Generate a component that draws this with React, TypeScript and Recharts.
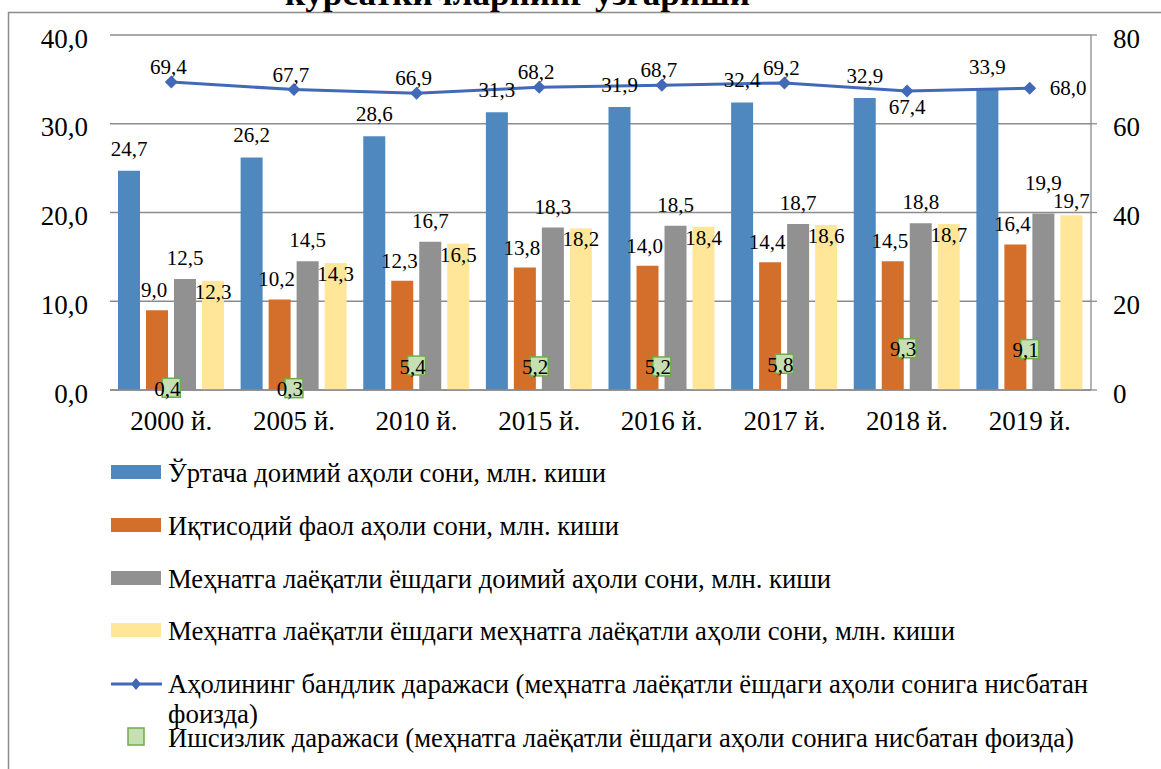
import { ComposedChart, Bar, Line, XAxis, YAxis, CartesianGrid, LabelList } from 'recharts';

const years = ['2000 й.', '2005 й.', '2010 й.', '2015 й.', '2016 й.', '2017 й.', '2018 й.', '2019 й.'];
const avgPopulation = [24.7, 26.2, 28.6, 31.3, 31.9, 32.4, 32.9, 33.9];
const activePopulation = [9.0, 10.2, 12.3, 13.8, 14.0, 14.4, 14.5, 16.4];
const workingAgePopulation = [12.5, 14.5, 16.7, 18.3, 18.5, 18.7, 18.8, 19.9];
const ableBodiedPopulation = [12.3, 14.3, 16.5, 18.2, 18.4, 18.6, 18.7, 19.7];
const employmentRate = [69.4, 67.7, 66.9, 68.2, 68.7, 69.2, 67.4, 68.0];
const unemploymentRate = [0.4, 0.3, 5.4, 5.2, 5.2, 5.8, 9.3, 9.1];

const leftTicks = [0, 10, 20, 30, 40];
const rightTicks = [0, 20, 40, 60, 80];

const seriesNames = [
  'Ўртача доимий аҳоли сони, млн. киши',
  'Иқтисодий фаол аҳоли сони, млн. киши',
  'Меҳнатга лаёқатли ёшдаги доимий аҳоли сони, млн. киши',
  'Меҳнатга лаёқатли ёшдаги меҳнатга лаёқатли аҳоли сони, млн. киши',
  'Аҳолининг бандлик даражаси (меҳнатга лаёқатли ёшдаги аҳоли сонига нисбатан',
  'фоизда)',
  'Ишсизлик даражаси (меҳнатга лаёқатли ёшдаги аҳоли сонига нисбатан фоизда)',
];
const title = 'кўрсаткичларнинг ўзгариши';

const data = years.map((year, i) => ({
  year,
  avg: avgPopulation[i],
  active: activePopulation[i],
  working: workingAgePopulation[i],
  able: ableBodiedPopulation[i],
  employment: employmentRate[i],
  unemployment: unemploymentRate[i],
}));

const FONT = "'Liberation Serif', 'DejaVu Serif', serif";
const BLUE = '#4F88BE';
const ORANGE = '#D36E2B';
const GRAY = '#919191';
const YELLOW = '#FFE699';
const LINE = '#4169B8';
const SQ_FILL = '#C6E0B4';
const SQ_STROKE = '#70AD47';
const AXIS = '#8C8C8C';

const fmt = (v: number) => v.toFixed(1).replace('.', ',');

const lastIdx = years.length - 1;

function barLabel(kind: string) {
  return (p: any) => {
    const { x, y, width, value, index } = p;
    const cx = x + width / 2;
    let by = y - 14;
    let dx = 0;
    if (kind === 'blue') by = y - 15;
    if (kind === 'orange') { by = y - 13; dx = -3; }
    if (kind === 'gray') by = index === lastIdx ? y - 23 : y - 14;
    if (kind === 'yellow') by = index === lastIdx ? y - 7 : y + 18;
    return (
      <text key={`${kind}-${index}`} x={cx + dx} y={by} textAnchor="middle" fontSize={21} fontFamily={FONT} fill="#000">
        {fmt(Number(value))}
      </text>
    );
  };
}

const lineLabel = (p: any) => {
  const { x, y, value, index } = p;
  if (index === lastIdx) {
    return <text key={`ll-${index}`} x={x + 20} y={y + 7} textAnchor="start" fontSize={21} fontFamily={FONT}>{fmt(Number(value))}</text>;
  }
  if (index === 6) {
    return <text key={`ll-${index}`} x={x} y={y + 23} textAnchor="middle" fontSize={21} fontFamily={FONT}>{fmt(Number(value))}</text>;
  }
  return <text key={`ll-${index}`} x={x - 3} y={y - 8} textAnchor="middle" fontSize={21} fontFamily={FONT}>{fmt(Number(value))}</text>;
};

const squareLabel = (p: any) => {
  const { x, y, value, index } = p;
  return <text key={`sl-${index}`} x={x - 4} y={y + 7.5} textAnchor="middle" fontSize={21} fontFamily={FONT}>{fmt(Number(value))}</text>;
};

const Diamond = (p: any) => {
  const { cx, cy, index } = p;
  if (cx == null || cy == null) return <g key={`d-${index}`} />;
  const r = 6.5;
  return <path key={`d-${index}`} d={`M${cx},${cy - r}L${cx + r},${cy}L${cx},${cy + r}L${cx - r},${cy}Z`} fill={LINE} />;
};

const Square = (p: any) => {
  const { cx, cy, index } = p;
  if (cx == null || cy == null) return <g key={`s-${index}`} />;
  return <rect key={`s-${index}`} x={cx - 9} y={cy - 10} width={18} height={19} fill={SQ_FILL} stroke={SQ_STROKE} strokeWidth={1.5} />;
};

const legendRows = [
  { kind: 'bar', color: BLUE, text: seriesNames[0], base: 482, len: 438 },
  { kind: 'bar', color: ORANGE, text: seriesNames[1], base: 535, len: 451 },
  { kind: 'bar', color: GRAY, text: seriesNames[2], base: 588, len: 663 },
  { kind: 'bar', color: YELLOW, text: seriesNames[3], base: 640, len: 787 },
  { kind: 'line', color: LINE, text: seriesNames[4], base: 693, len: 920 },
  { kind: 'none', color: '', text: seriesNames[5], base: 723, len: 90 },
  { kind: 'square', color: SQ_FILL, text: seriesNames[6], base: 747, len: 906 },
];

function Overlay() {
  return (
    <svg width={1161} height={769} style={{ position: 'absolute', left: 0, top: 0, pointerEvents: 'none' }}>
      <rect x={8.5} y={12.5} width={1200} height={800} fill="none" stroke={AXIS} strokeWidth={1.5} />
      <text x={285} y={5} fontSize={34} fontWeight="bold" fontFamily={FONT} textLength={465} lengthAdjust="spacingAndGlyphs">
        {title}
      </text>
      {legendRows.map((r, i) => (
        <g key={i}>
          {r.kind === 'bar' && <rect x={111} y={r.base - 17} width={50} height={14} fill={r.color} />}
          {r.kind === 'line' && (
            <g>
              <line x1={111} x2={162} y1={r.base - 9} y2={r.base - 9} stroke={r.color} strokeWidth={3} />
              <path d={`M136,${r.base - 15}L141,${r.base - 9}L136,${r.base - 3}L131,${r.base - 9}Z`} fill={r.color} />
            </g>
          )}
          {r.kind === 'square' && <rect x={128} y={r.base - 19} width={16} height={17} fill={SQ_FILL} stroke={SQ_STROKE} strokeWidth={1.5} />}
          <text x={168} y={r.base} fontSize={27} fontFamily={FONT} textLength={r.len} lengthAdjust="spacingAndGlyphs">
            {r.text}
          </text>
        </g>
      ))}
    </svg>
  );
}

export default function App() {
  return (
    <div style={{ position: 'absolute', left: 0, top: 0, width: 1161, height: 769, overflow: 'hidden', background: '#fff', fontFamily: FONT }}>
      <ComposedChart
        width={1161}
        height={769}
        data={data}
        margin={{ top: 35, right: 0, bottom: 339, left: 0 }}
        barGap={6}
      >
        <CartesianGrid vertical={false} stroke={AXIS} strokeWidth={1.3} yAxisId="left" />
        <XAxis
          dataKey="year"
          height={40}
          axisLine={{ stroke: AXIS, strokeWidth: 1.5 }}
          tickLine={false}
          tickSize={0}
          tickMargin={21}
          tick={{ fontSize: 27, fill: '#000', fontFamily: FONT }}
        />
        <YAxis
          yAxisId="left"
          domain={[0, 40]}
          ticks={leftTicks}
          tickFormatter={fmt}
          width={110}
          axisLine={false}
          tickLine={false}
          tickSize={0}
          tickMargin={22}
          tick={{ fontSize: 27, fill: '#000', fontFamily: FONT, dy: 3 }}
        />
        <YAxis
          yAxisId="right"
          orientation="right"
          domain={[0, 80]}
          ticks={rightTicks}
          width={70}
          axisLine={{ stroke: AXIS, strokeWidth: 1.3 }}
          tickLine={{ stroke: AXIS, strokeWidth: 1.3 }}
          tickSize={6}
          tickMargin={16}
          tick={{ fontSize: 27, fill: '#000', fontFamily: FONT, dy: 3 }}
        />
        <Bar yAxisId="left" dataKey="avg" fill={BLUE} barSize={22} isAnimationActive={false}>
          <LabelList dataKey="avg" content={barLabel('blue')} />
        </Bar>
        <Bar yAxisId="left" dataKey="active" fill={ORANGE} barSize={22} isAnimationActive={false}>
          <LabelList dataKey="active" content={barLabel('orange')} />
        </Bar>
        <Bar yAxisId="left" dataKey="working" fill={GRAY} barSize={22} isAnimationActive={false}>
          <LabelList dataKey="working" content={barLabel('gray')} />
        </Bar>
        <Bar yAxisId="left" dataKey="able" fill={YELLOW} barSize={22} isAnimationActive={false}>
          <LabelList dataKey="able" content={barLabel('yellow')} />
        </Bar>
        <Line
          yAxisId="right"
          dataKey="employment"
          stroke={LINE}
          strokeWidth={3}
          dot={Diamond}
          activeDot={false}
          isAnimationActive={false}
        >
          <LabelList dataKey="employment" content={lineLabel} />
        </Line>
        <Line
          yAxisId="right"
          dataKey="unemployment"
          stroke="none"
          dot={Square}
          activeDot={false}
          isAnimationActive={false}
        >
          <LabelList dataKey="unemployment" content={squareLabel} />
        </Line>
      </ComposedChart>
      <Overlay />
    </div>
  );
}
